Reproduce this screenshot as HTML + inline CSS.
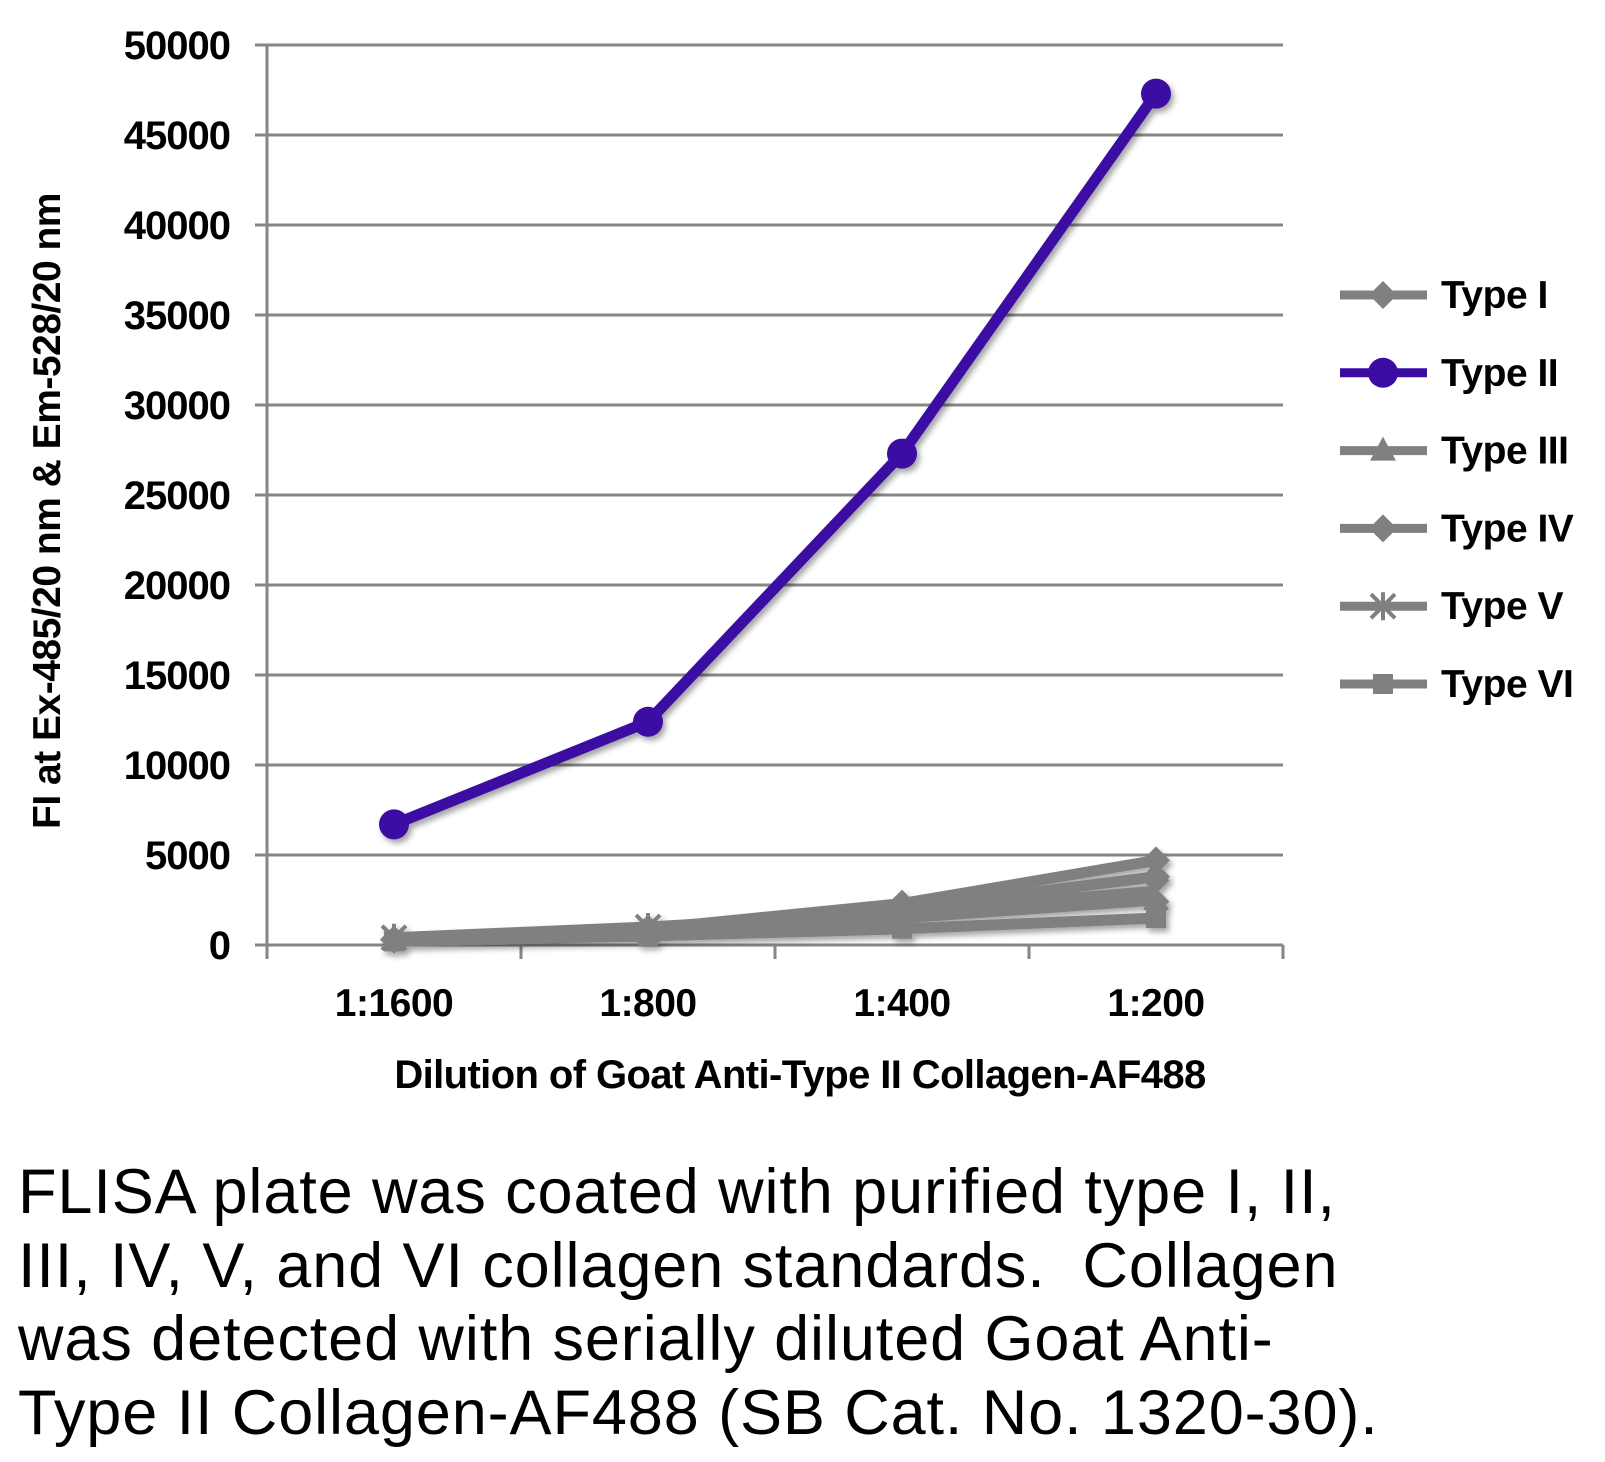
<!DOCTYPE html>
<html><head><meta charset="utf-8">
<style>
body{margin:0;background:#fff;width:1605px;height:1462px;overflow:hidden;font-family:"Liberation Sans",sans-serif}
.cap{position:absolute;left:18px;top:1156px;font-size:63px;line-height:73.5px;color:#000;width:1590px;letter-spacing:0.9px;white-space:nowrap}
</style></head><body>
<svg width="1605" height="1150" style="position:absolute;left:0;top:0">
<defs><filter id="sh" x="-20%" y="-20%" width="140%" height="140%"><feDropShadow dx="3" dy="4" stdDeviation="3" flood-color="#000" flood-opacity="0.35"/></filter></defs>
<g id="grid"></g><g id="axes"></g><g id="series" filter="url(#sh)"></g><g id="legend"></g>
<text x="60" y="511" transform="rotate(-90 60 511)" text-anchor="middle" font-size="39" font-weight="bold" fill="#000" letter-spacing="-0.5">FI at Ex-485/20 nm &amp; Em-528/20 nm</text>
<text x="800" y="1088" text-anchor="middle" font-size="40" font-weight="bold" fill="#000" letter-spacing="-0.6">Dilution of Goat Anti-Type II Collagen-AF488</text>
</svg>
<div class="cap">FLISA plate was coated with purified type I, II,<br>III, IV, V, and VI collagen standards.&nbsp; Collagen<br>was detected with serially diluted Goat Anti-<br>Type II Collagen-AF488 (SB Cat. No. 1320-30).</div>
<script>
const categories=["1:1600","1:800","1:400","1:200"];
const yTicks=[0,5000,10000,15000,20000,25000,30000,35000,40000,45000,50000];
const seriesNames=["Type I","Type II","Type III","Type IV","Type V","Type VI"];
const typeI=[300,900,2300,4700];
const typeII=[6700,12400,27300,47300];
const typeIII=[300,700,1500,2500];
const typeIV=[300,800,2000,3800];
const typeV=[400,1000,1800,3000];
const typeVI=[200,500,900,1500];
const NS="http://www.w3.org/2000/svg";
const L=267,R=1283,T=45,B=945,YMAX=50000;
const y=v=>B-(v/YMAX)*(B-T);
const bw=(R-L)/categories.length;
const x=i=>L+bw*(i+0.5);
function mk(tag,at,parent){const e=document.createElementNS(NS,tag);for(const k in at)e.setAttribute(k,at[k]);document.getElementById(parent).appendChild(e);return e;}
yTicks.forEach(v=>{
 const l=mk('line',{x1:255,x2:R,y1:y(v),y2:y(v),stroke:'#868686','stroke-width':3},'grid');
 
 
 const t=mk('text',{x:230,y:y(v)+14,'text-anchor':'end','font-size':40,'font-weight':'bold','letter-spacing':-1},'axes');
 t.textContent=v;
 
 
});
let ax=mk('line',{x1:L,x2:L,y1:T,y2:B,stroke:'#868686','stroke-width':3},'axes');


for(let i=0;i<=categories.length;i++){
 const tk=mk('line',{x1:L+bw*i,x2:L+bw*i,y1:B,y2:B+14,stroke:'#868686','stroke-width':3},'axes');
 
 
}
categories.forEach((c,i)=>{
 const t=mk('text',{x:x(i),y:1016,'text-anchor':'middle','font-size':39,'font-weight':'bold','letter-spacing':-0.5},'axes');
 t.textContent=c;
 
 
});
function marker(kind,cx,cy,col,parent){
 if(kind==='circle')return mk('circle',{cx,cy,r:15,fill:col},parent);
 if(kind==='diamond')return mk('polygon',{points:`${cx},${cy-14} ${cx+14},${cy} ${cx},${cy+14} ${cx-14},${cy}`,fill:col},parent);
 if(kind==='tri')return mk('polygon',{points:`${cx},${cy-14} ${cx+13},${cy+10} ${cx-13},${cy+10}`,fill:col},parent);
 if(kind==='square')return mk('rect',{x:cx-10,y:cy-10,width:20,height:20,fill:col},parent);
 return mk('path',{d:`M${cx-12},${cy-12}L${cx+12},${cy+12}M${cx+12},${cy-12}L${cx-12},${cy+12}M${cx},${cy-14}L${cx},${cy+14}`,stroke:col,'stroke-width':4},parent);
}
const defs=[["Type VI",typeVI,'square','#808080'],["Type III",typeIII,'tri','#808080'],["Type V",typeV,'star','#808080'],["Type IV",typeIV,'diamond','#808080'],["Type I",typeI,'diamond','#808080'],["Type II",typeII,'circle','#3a0ca3']];
defs.forEach(([n,vals,m,col])=>{
 const p=mk('polyline',{points:vals.map((v,i)=>x(i)+','+y(v)).join(' '),fill:'none',stroke:col,'stroke-width':11,'stroke-linejoin':'round'},'series');
 
 
 vals.forEach((v,i)=>{
  const mm=marker(m,x(i),y(v),col,'series');
  
  
 });
});
const legKinds=['diamond','circle','tri','diamond','star','square'];
seriesNames.forEach((n,i)=>{
 const ly=295+i*77.8;const col=i===1?'#3a0ca3':'#808080';
 const g=mk('line',{x1:1340,x2:1427,y1:ly,y2:ly,stroke:col,'stroke-width':9},'legend');
 
 
 const mm=marker(legKinds[i],1383,ly,col,'legend');
 
 
 const t=mk('text',{x:1441,y:ly+13,'font-size':39,'font-weight':'bold','letter-spacing':-0.5},'legend');
 t.textContent=n;
 
 
});
</script>
</body></html>
